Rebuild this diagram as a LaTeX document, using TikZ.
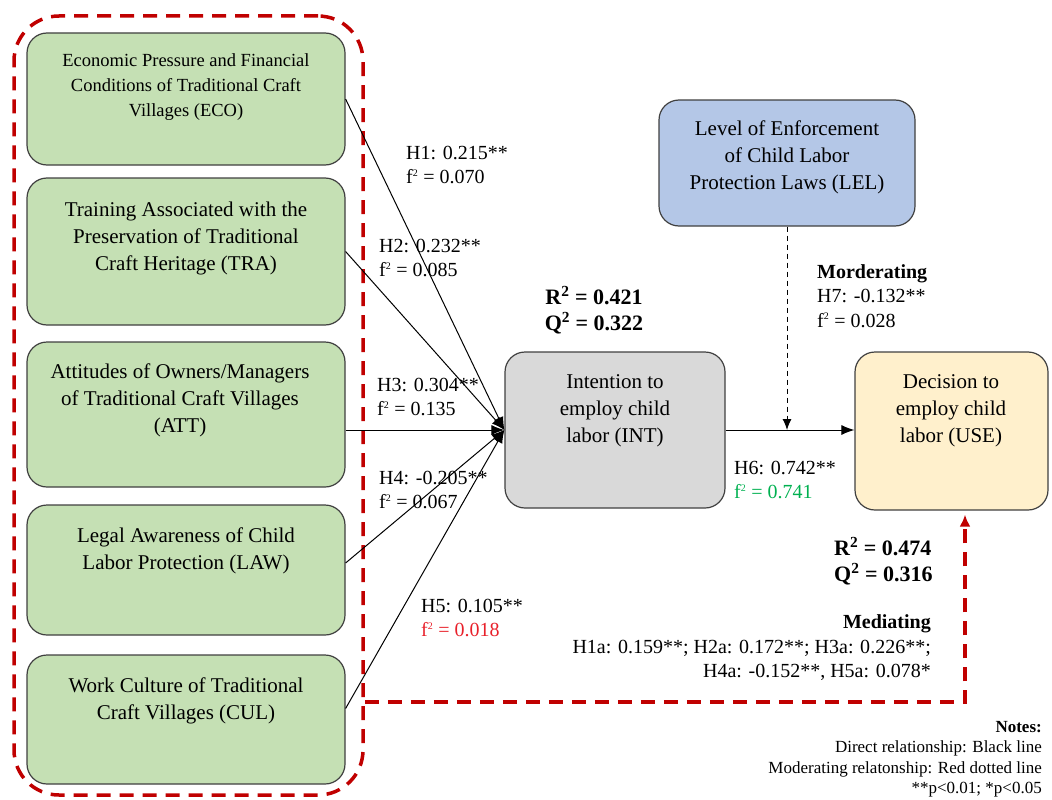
\documentclass[tikz,border=0pt]{standalone}
\usepackage{fontspec}
\setmainfont{Liberation Serif}
\usepackage{tikz}
\usetikzlibrary{positioning,arrows.meta}
\definecolor{factorgreen}{HTML}{C5E0B4}
\definecolor{intgray}{HTML}{D9D9D9}
\definecolor{lelblue}{HTML}{B4C7E7}
\definecolor{useyellow}{HTML}{FFF0CC}
\definecolor{frame red}{HTML}{C00000}
\definecolor{f green}{HTML}{00B050}
\definecolor{f red}{HTML}{E8202A}
\newcommand{\fsq}{f\textsuperscript{\fontsize{10}{10}\selectfont 2}}
\tikzset{%
  every factor/.style={
    draw=black!75,
    line width=1.2pt,
    rounded corners=20pt
  },
  factor box/.style={
    every factor,
    fill=factorgreen,
    minimum width=318pt
  },
  factor text/.style={
    align=center,
    inner sep=0pt,
    font=\fontsize{21}{27}\selectfont
  },
  path label/.style={
    align=left,
    anchor=west,
    inner sep=0pt,
    font=\fontsize{20}{24.5}\selectfont
  },
  fit label/.style={
    align=left,
    anchor=west,
    inner sep=0pt,
    font=\fontsize{22}{26}\selectfont\bfseries
  },
}

\begin{document}
\begin{tikzpicture}[x=1pt, y=-1pt, > = {Latex[length=13pt,width=10pt]}]
\useasboundingbox (0,0) rectangle (1052,800);

\node[draw=frame red, line width=3.5pt, dash pattern=on 14pt off 9pt, rounded corners=45pt,
      minimum width=349pt, minimum height=779pt] (frame) at (188.5,405.5) {};

    \foreach \name/\y/\h in {eco/99/132, tra/251.5/147, att/414.5/145, law/570/130, cul/719.5/129}
        \node[factor box, minimum height=\h pt] (\name) at (186,\y) {};

\node[factor text, font=\fontsize{18.5}{25}\selectfont] (eco_txt) at (186,87)
    {Economic Pressure and Financial\\Conditions of Traditional Craft\\Villages (ECO)};
\node[factor text] (tra_txt) at (186,238)
    {Training Associated with the\\Preservation of Traditional\\Craft Heritage (TRA)};
\node[factor text] (att_txt) at (180,400)
    {Attitudes of Owners/Managers\\of Traditional Craft Villages\\(ATT)};
\node[factor text] (law_txt) at (186,551)
    {Legal Awareness of Child\\Labor Protection (LAW)};
\node[factor text] (cul_txt) at (186,701)
    {Work Culture of Traditional\\Craft Villages (CUL)};

\node[every factor, fill=intgray, minimum width=220pt, minimum height=156pt] (int) at (615,430) {};
\node[factor text] (int_txt) at (615,411) {Intention to\\employ child\\labor (INT)};

\node[every factor, fill=useyellow, minimum width=193pt, minimum height=158pt] (use) at (951.5,431) {};
\node[factor text] (use_txt) at (951,411) {Decision to\\employ child\\labor (USE)};

\node[every factor, fill=lelblue, minimum width=256pt, minimum height=126pt] (lel) at (787,163) {};
\node[factor text] (lel_txt) at (787,157) {Level of Enforcement\\of Child Labor\\Protection Laws (LEL)};

    \foreach \name/\dy in {eco/0,tra/0,law/7,cul/11}
        \draw[line width=1pt, ->] ([yshift=\dy pt]\name.east) -- (int.west);
   \draw[line width=1pt, ->] (att.east |- int.west) -- (int.west);
   \draw[line width=1pt, ->] (int.east) -- (int.east -| use.west);
   \draw[line width=1pt, dash pattern=on 5pt off 4pt, -{Latex[length=11pt,width=9pt]}]
        (lel.south) -- (lel.south |- int.east);

\coordinate (med) at (965,702);
   \draw[frame red, line width=3.5pt, dash pattern=on 14pt off 9pt, -{Latex[length=12pt,width=11pt]}]
        (frame.east |- med) -- (med) -- ([yshift=-4pt]med |- use.south);

\node[path label] (h1) at (406,165) {H1: 0.215**\\\fsq{} = 0.070};
\node[path label] (h2) at (379,258) {H2: 0.232**\\\fsq{} = 0.085};
\node[path label] (h3) at (377,397) {H3: 0.304**\\\fsq{} = 0.135};
\node[path label] (h4) at (379,490) {H4: -0.205**\\\fsq{} = 0.067};
\node[path label] (h5) at (421,618) {H5: 0.105**\\\textcolor{f red}{\fsq{} = 0.018}};
\node[path label] (h6) at (734,480) {H6: 0.742**\\\textcolor{f green}{\fsq{} = 0.741}};
\node[path label] (h7) at (817,296) {\textbf{Morderating}\\H7: -0.132**\\\fsq{} = 0.028};

\node[fit label, align=center, anchor=center] (r2_int) at (594,310) {R\textsuperscript{2} = 0.421\\Q\textsuperscript{2} = 0.322};
\node[fit label] (r2_use) at (834,561) {R\textsuperscript{2} = 0.474\\Q\textsuperscript{2} = 0.316};

\node[path label, align=right, anchor=east] (mediating) at (931,648)
    {\textbf{Mediating}\\H1a: 0.159**; H2a: 0.172**; H3a: 0.226**;\\H4a: -0.152**, H5a: 0.078*};

\node[align=right, anchor=east, inner sep=0pt, font=\fontsize{17}{20.5}\selectfont] (notes) at (1042,759)
    {\textbf{Notes:}\\Direct relationship: Black line\\Moderating relatonship: Red dotted line\\**p<0.01; *p<0.05};
\end{tikzpicture}
\end{document}
